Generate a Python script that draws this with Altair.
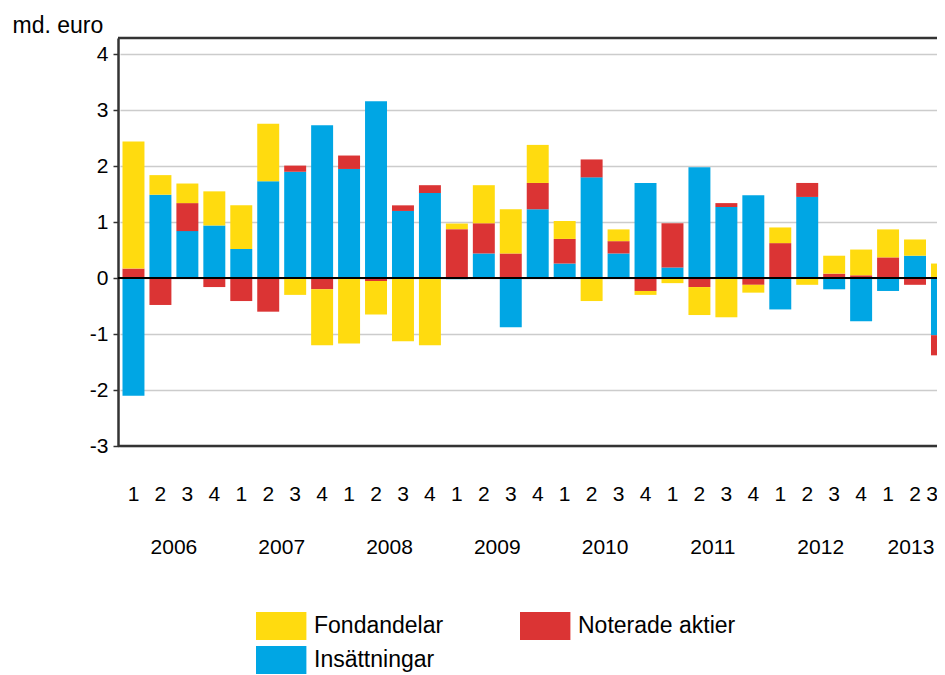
import altair as alt
import pandas as pd

F = "Liberation Sans"

years = [2006, 2007, 2008, 2009, 2010, 2011, 2012, 2013]
quarters = [f"{y}-{q}" for y in years for q in (1, 2, 3, 4)][:31]

insattningar = [-2.10, 1.49, 0.84, 0.94,
                0.52, 1.73, 1.90, 2.73,
                1.95, 3.16, 1.20, 1.52,
                -0.02, 0.44, -0.88, 1.23,
                0.26, 1.80, 0.44, 1.70,
                0.19, 1.98, 1.27, 1.48,
                -0.56, 1.45, -0.20, -0.77,
                -0.23, 0.40, -1.02]
noterade = [0.17, -0.48, 0.50, -0.16,
            -0.41, -0.60, 0.11, -0.20,
            0.24, -0.05, 0.10, 0.14,
            0.875, 0.54, 0.44, 0.47,
            0.44, 0.32, 0.22, -0.23,
            0.79, -0.16, 0.07, -0.12,
            0.625, 0.25, 0.08, 0.05,
            0.37, -0.12, -0.36]
fondandelar = [2.27, 0.35, 0.35, 0.61,
               0.78, 1.03, -0.30, -1.00,
               -1.17, -0.60, -1.13, -1.20,
               0.10, 0.68, 0.79, 0.68,
               0.32, -0.41, 0.21, -0.07,
               -0.09, -0.50, -0.70, -0.14,
               0.28, -0.12, 0.32, 0.46,
               0.50, 0.29, 0.26]

series_names = ["Fondandelar", "Noterade aktier", "Insättningar"]
series_colors = ["#FFDB0F", "#DB3434", "#00A6E4"]
stack_order = {"Insättningar": 0, "Noterade aktier": 1, "Fondandelar": 2}
y_ticks = [-3, -2, -1, 0, 1, 2, 3, 4]

rows = []
for i, q in enumerate(quarters):
    for name, vals in (("Insättningar", insattningar),
                       ("Noterade aktier", noterade),
                       ("Fondandelar", fondandelar)):
        rows.append({"kvartal": q, "serie": name, "varde": vals[i], "ord": stack_order[name]})
df = pd.DataFrame(rows)

full_years = pd.DataFrame({"kvartal": [f"{y}-2" for y in years[:-1]],
                           "ar": [str(y) for y in years[:-1]]})
last_year = pd.DataFrame({"kvartal": [f"{years[-1]}-2"], "ar": [str(years[-1])]})

W, H = 819, 408
STEP = 26.95
x_scale = alt.Scale(domain=quarters, range=[2, 2 + 31 * STEP], paddingInner=0, paddingOuter=0)

last_q = quarters[-1]

bars = alt.Chart(df).mark_bar(width=alt.RelativeBandSize(0.815), clip=True).encode(
    x=alt.X("kvartal:N", scale=x_scale, title=None,
            axis=alt.Axis(labelExpr="substring(datum.value, 5)", labelAngle=0,
                          ticks=False, tickSize=0, domain=False, grid=False,
                          labelFontSize=21, labelFont=F, labelColor="#000",
                          labelPadding=37,
                          labelOffset={"condition": {"test": f"datum.value === '{last_q}'",
                                                     "value": -10},
                                       "value": 0})),
    y=alt.Y("varde:Q", stack="zero",
            scale=alt.Scale(domain=[-3, 4.29], nice=False, zero=False),
            axis=alt.Axis(title="md. euro", titleAngle=0, titleAlign="left",
                          titleBaseline="alphabetic", titleX=-106, titleY=-6,
                          titleFontSize=23, titleFontWeight="normal", titleFont=F,
                          titleColor="#000", values=y_ticks,
                          labelExpr="'' + datum.value",
                          labelFontSize=21, labelFont=F, labelColor="#000",
                          labelPadding=5, tickSize=5, tickColor="#333", tickWidth=1.5,
                          domainColor="#333", domainWidth=2.5,
                          grid=True, gridColor="#CCCCCC", gridWidth=1.5)),
    color=alt.Color("serie:N",
                    scale=alt.Scale(domain=series_names, range=series_colors),
                    legend=alt.Legend(title=None, orient="none", legendX=138, legendY=574,
                                      direction="horizontal", columns=2,
                                      symbolType="M-1,-1L2.6,-1L2.6,1L-1,1Z",
                                      symbolSize=784, symbolStrokeWidth=0, symbolOpacity=1,
                                      labelFontSize=23, labelFont=F, labelColor="#000",
                                      labelOffset=30, columnPadding=76, rowPadding=6,
                                      padding=0)),
    order=alt.Order("ord:Q", sort="ascending"),
)

zero = alt.Chart(pd.DataFrame({"z": [0]})).mark_rule(color="#000", strokeWidth=2).encode(
    y=alt.datum(0), x=alt.value(0), x2=alt.value(W))

top_border = alt.Chart(pd.DataFrame({"f": [0]})).mark_rule(color="#333", strokeWidth=2.5).encode(
    y=alt.value(0), x=alt.value(0), x2=alt.value(W))
bottom_border = alt.Chart(pd.DataFrame({"f": [0]})).mark_rule(color="#333", strokeWidth=2.5).encode(
    y=alt.value(H), x=alt.value(0), x2=alt.value(W))

year_full = alt.Chart(full_years).mark_text(fontSize=21, font=F, color="#000", baseline="middle").encode(
    x=alt.X("kvartal:N", bandPosition=1),
    y=alt.value(H + 102),
    text="ar:N")
year_last = alt.Chart(last_year).mark_text(fontSize=21, font=F, color="#000", baseline="middle").encode(
    x=alt.X("kvartal:N", bandPosition=0.35),
    y=alt.value(H + 102),
    text="ar:N")

chart = alt.layer(bars, zero, top_border, bottom_border, year_full, year_last).properties(
    width=W, height=H,
    autosize=alt.AutoSizeParams(type="none"),
    padding={"left": 110, "top": 30, "right": 0, "bottom": 229},
).configure_view(stroke=None)

chart.save("out.html", embed_options={"renderer": "svg", "actions": False})
